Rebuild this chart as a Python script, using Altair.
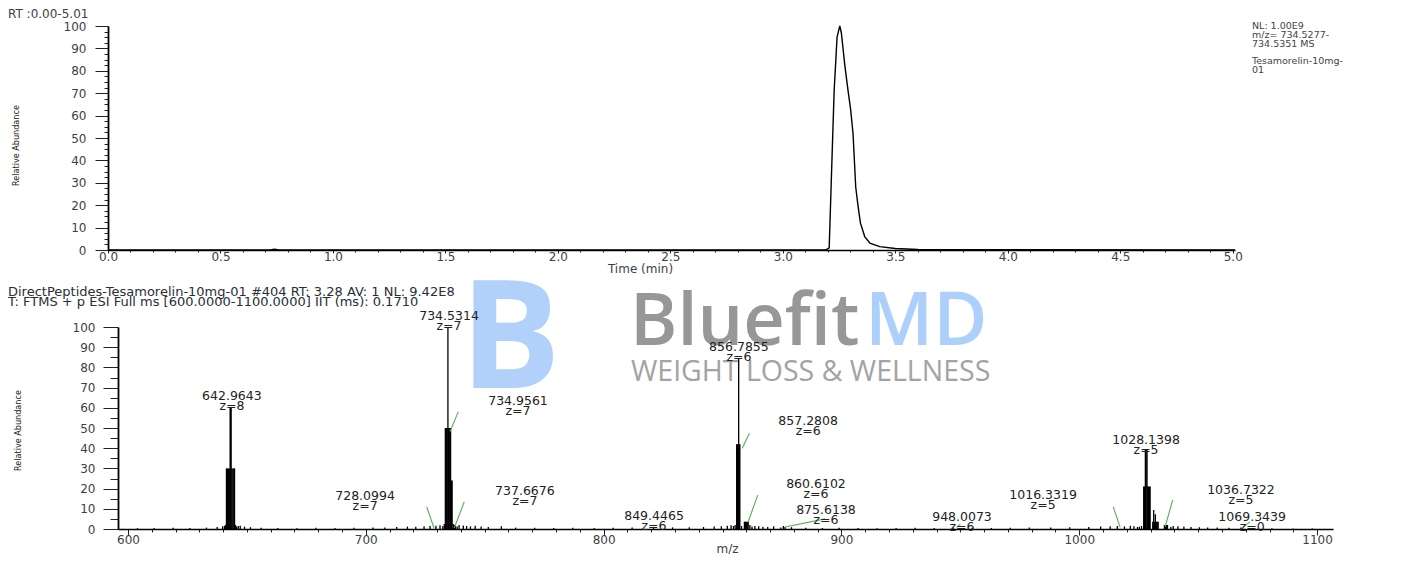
import altair as alt
import pandas as pd

FONT = "DejaVu Sans"
NARROW = "Liberation Sans Narrow, DejaVu Sans Condensed, Liberation Sans"
TXT = "#3a3f48"

# ---------------- top panel: chromatogram ----------------
rt_time = [0.0, 0.72, 0.74, 0.76, 3.19, 3.206, 3.216, 3.228, 3.241, 3.253, 3.260, 3.276,
           3.290, 3.301, 3.312, 3.324, 3.335, 3.345, 3.364, 3.387, 3.431, 3.50, 3.60, 5.01]
rt_abund = [0, 0, 0.4, 0, 0, 1, 33, 71, 95, 100, 97, 82,
            71, 63, 52, 28, 19, 12, 6, 3, 1.5, 0.7, 0.2, 0]
top_title = "RT :0.00-5.01"
info_lines_a = ["NL: 1.00E9", "m/z= 734.5277-", "734.5351 MS"]
info_lines_b = ["Tesamorelin-10mg-", "01"]
top_x_ticks = [round(i * 0.1, 1) for i in range(51)]
top_y_ticks = [i * 2.5 for i in range(41)]

# ---------------- bottom panel: mass spectrum ----------------
header_lines = ["DirectPeptides-Tesamorelin-10mg-01 #404 RT: 3.28 AV: 1 NL: 9.42E8",
                "T: FTMS + p ESI Full ms [600.0000-1100.0000] IIT (ms): 0.1710"]

cl643_mz = [640.6, 641.0, 641.4, 641.8, 642.2, 642.6, 642.96, 643.15, 643.35, 643.7, 644.1, 644.5, 644.8, 645.2, 645.7, 646.4]
cl643_int = [1.5, 2.0, 30, 30, 30, 30, 60, 60, 60, 30, 30, 30, 30, 2.0, 1.2, 1.5]
cl734_mz = [732.4, 733.0, 733.45, 733.85, 734.2, 734.53, 734.75, 734.96, 735.3, 735.65, 736.0, 736.3, 736.8, 737.3, 737.67, 738.4]
cl734_int = [1.5, 2.5, 50, 50, 50, 100, 50, 50, 50, 50, 24, 24, 2.5, 2.0, 1.5, 1.2]
cl857_mz = [854.6, 855.3, 855.95, 856.3, 856.6, 856.79, 857.0, 857.28, 858.0, 859.2, 859.6, 860.0, 860.4, 860.8, 861.5, 862.4, 875.6, 876.3]
cl857_int = [1.5, 2.0, 42, 42, 42, 84.5, 42, 42, 1.5, 3.6, 3.6, 3.6, 3.6, 3.6, 2.0, 1.2, 1.5, 1.0]
cl1028_mz = [1024.5, 1025.3, 1026.2, 1027.1, 1027.45, 1027.8, 1028.14, 1028.5, 1028.8, 1029.15, 1029.5, 1029.8,
             1030.9, 1031.3, 1031.6, 1032.0, 1032.4, 1032.8, 1033.2, 1035.8, 1036.3, 1036.73, 1037.1, 1038.5]
cl1028_int = [1.0, 1.2, 1.5, 21, 21, 39.4, 39.4, 39.4, 21, 21, 21, 21,
              3.6, 9.4, 3.6, 7.3, 3.6, 3.6, 3.6, 2.0, 2.0, 2.0, 2.0, 1.0]
noise_mz = [
    604, 611, 619, 626, 633, 637.5, 639.8, 647.2, 649, 651.5,
    656, 663, 671, 679, 687, 695, 703, 708, 713, 717.5,
    721, 724.5, 727, 729.5, 731.2, 739.2, 741, 742.4, 744, 746,
    748.5, 751.5, 757, 763, 771, 779, 787, 796, 804, 812,
    821, 829, 836, 842, 846.5, 849.5, 852, 853.6, 863.6, 865.2,
    867, 869, 871.5, 874.5, 879, 885, 892, 899, 907, 915,
    923, 931, 939, 947, 955, 963, 971, 979, 988, 996,
    1004, 1009, 1013, 1016, 1019, 1021.5, 1023, 1039.5, 1041.5, 1044,
    1047, 1050.5, 1054, 1058, 1063, 1068, 1073, 1081, 1090, 1098]
noise_int = [
    0.4, 0.5, 0.6, 0.5, 0.7, 1.0, 1.4, 1.6, 1.2, 0.9,
    0.6, 0.5, 0.4, 0.6, 0.5, 0.6, 0.7, 0.8, 1.0, 1.2,
    1.1, 1.3, 1.5, 1.6, 1.8, 2.0, 1.7, 1.5, 1.3, 1.6,
    1.2, 1.0, 1.4, 0.7, 0.6, 0.5, 0.6, 0.5, 0.6, 0.7,
    0.6, 0.8, 0.9, 1.0, 1.2, 1.4, 1.6, 1.8, 1.5, 1.3,
    1.1, 1.0, 1.3, 0.8, 0.9, 0.6, 0.5, 0.6, 0.5, 0.4,
    0.5, 0.6, 0.5, 0.7, 0.6, 0.5, 0.6, 0.7, 0.8, 0.9,
    1.0, 1.2, 1.4, 1.5, 1.3, 1.6, 1.4, 1.5, 1.3, 1.2,
    1.0, 0.9, 0.8, 0.7, 0.6, 0.7, 0.5, 0.4, 0.3, 0.3]

peak_mass = ["642.9643", "734.5314", "734.9561", "728.0994", "737.6676", "856.7855", "857.2808",
             "860.6102", "875.6138", "849.4465", "948.0073", "1016.3319", "1028.1398", "1036.7322", "1069.3439"]
peak_charge = ["z=8", "z=7", "z=7", "z=7", "z=7", "z=6", "z=6",
               "z=6", "z=6", "z=6", "z=6", "z=5", "z=5", "z=5", "z=0"]
label_mz = [643.7, 735.0, 764.0, 699.7, 766.9, 856.9, 886.0, 889.3, 893.5, 821.2, 950.7, 984.8, 1028.1, 1068.0, 1072.7]
label_val = [65.6, 105.2, 63.4, 16.3, 18.8, 89.9, 53.5, 22.5, 9.2, 6.2, 5.7, 16.6, 44.3, 19.3, 5.7]

lead_mz1 = [725.6, 735.4, 737.2, 858.3, 860.8, 876.3, 1014.3, 1036.1, 948.5, 1068.9]
lead_v1 = [11.0, 48.2, 0.5, 40.0, 3.6, 1.0, 11.0, 1.0, 0.8, 1.0]
lead_mz2 = [728.7, 738.9, 741.4, 861.3, 864.8, 893.1, 1017.2, 1039.3, 950.0, 1071.8]
lead_v2 = [0.5, 58.1, 13.5, 47.4, 16.8, 5.0, 0.8, 14.4, 2.5, 3.5]

bot_x_ticks = list(range(600, 1101, 10))
bot_y_ticks = list(range(0, 101, 5))

wm_logo = "B"
wm_words = ["Bluefit", "MD", "WEIGHT LOSS & WELLNESS"]

one = pd.DataFrame({"a": [0]})

# ---------------- top panel ----------------
ax_top_x = alt.Axis(
    values=top_x_ticks,
    labelExpr="round(datum.value*10) % 5 === 0 ? format(datum.value, '.1f') : ''",
    tickSize={"condition": {"test": "round(datum.value*10) % 5 === 0", "value": 3}, "value": 2},
    labelPadding=-2, labelFont=FONT, labelFontSize=12, labelColor=TXT, labelOverlap=False,
    labelFlush=False,
    domainColor="black", domainWidth=1.5, tickColor="#222", grid=False,
    title="Time (min)", titleFont=FONT, titleFontSize=12, titleFontWeight="normal", titleColor=TXT,
    titleX=532, titleY=18, titleBaseline="middle", titleAlign="center")
ax_top_y = alt.Axis(
    values=top_y_ticks,
    labelExpr="datum.value % 10 === 0 ? format(datum.value, 'd') : ''",
    tickSize={"condition": {"test": "datum.value % 10 === 0", "value": 13}, "value": 4},
    labelPadding=9, labelFont=FONT, labelFontSize=12, labelColor=TXT, labelOverlap=False,
    labelFlush=False,
    domainColor="black", domainWidth=1.8, tickColor="#222", grid=False,
    title="Relative Abundance", titleFont=NARROW, titleFontSize=9, titleFontWeight="normal",
    titleColor="#222", titleX=-88, titleY=119)
x_top = alt.X("t:Q", scale=alt.Scale(domain=[0, 5.01], nice=False, zero=False), axis=ax_top_x)
y_top = alt.Y("ab:Q", scale=alt.Scale(domain=[0, 100], nice=False), axis=ax_top_y)

chrom = alt.Chart(pd.DataFrame({"t": rt_time, "ab": rt_abund})).mark_line(
    color="black", strokeWidth=1.4).encode(x=x_top, y=y_top)
rt_text = alt.Chart(one).mark_text(
    text=top_title, align="left", baseline="middle", font=FONT, fontSize=12, color=TXT
).encode(x=alt.value(-100), y=alt.value(-12))
info_a = alt.Chart(one).mark_text(
    text=info_lines_a, align="left", baseline="top", font=FONT, fontSize=9.5, lineHeight=9, color="#444"
).encode(x=alt.value(1144), y=alt.value(-5))
info_b = alt.Chart(one).mark_text(
    text=info_lines_b, align="left", baseline="top", font=FONT, fontSize=9.5, lineHeight=9, color="#444"
).encode(x=alt.value(1144), y=alt.value(29.5))

top = alt.layer(chrom, rt_text, info_a, info_b).properties(width=1127, height=224)

# ---------------- bottom panel ----------------
ax_bot_x = alt.Axis(
    values=bot_x_ticks,
    labelExpr="datum.value % 100 === 0 ? format(datum.value, 'd') : ''",
    tickSize={"condition": {"test": "datum.value % 100 === 0", "value": 6}, "value": 3},
    labelPadding=-1, labelFont=FONT, labelFontSize=12, labelColor=TXT, labelOverlap=False,
    labelFlush=False,
    domainColor="black", domainWidth=1.5, tickColor="#222", grid=False,
    title="m/z", titleFont=FONT, titleFontSize=12, titleFontWeight="normal", titleColor=TXT,
    titleX=619, titleY=19, titleBaseline="middle", titleAlign="center")
ax_bot_y = alt.Axis(
    values=bot_y_ticks, offset=-10,
    labelExpr="datum.value % 10 === 0 ? format(datum.value, 'd') : ''",
    tickSize={"condition": {"test": "datum.value % 10 === 0", "value": 15}, "value": 8},
    labelPadding=8, labelFont=FONT, labelFontSize=12, labelColor=TXT, labelOverlap=False,
    labelFlush=False,
    domainColor="black", domainWidth=1.8, tickColor="#222", grid=False,
    title="Relative Abundance", titleFont=NARROW, titleFontSize=9, titleFontWeight="normal",
    titleColor="#222", titleX=-96, titleY=103)
x_bot = alt.X("mz:Q", scale=alt.Scale(domain=[595.8, 1106.7], range=[10, 1225], nice=False, zero=False),
              axis=ax_bot_x)
y_bot = alt.Y("val:Q", scale=alt.Scale(domain=[0, 100], nice=False), axis=ax_bot_y)

all_mz = cl643_mz + cl734_mz + cl857_mz + cl1028_mz + noise_mz
all_int = cl643_int + cl734_int + cl857_int + cl1028_int + noise_int
ms_df = pd.DataFrame({"mz": all_mz, "val": all_int})

sticks = alt.Chart(ms_df).transform_calculate(base="0").mark_rule(
    color="black", strokeWidth=1.3).encode(x=x_bot, y=y_bot, y2="base:Q")

lead_df = pd.DataFrame({"mz": lead_mz1, "val": lead_v1, "mz2": lead_mz2, "val2": lead_v2})
leaders = alt.Chart(lead_df).mark_rule(color="#55b055", strokeWidth=1.1).encode(
    x=x_bot, y=y_bot, x2="mz2:Q", y2="val2:Q")

lab_df = pd.DataFrame({"mz": label_mz, "val": label_val,
                       "label": [m + "\n" + c for m, c in zip(peak_mass, peak_charge)]})
labels = alt.Chart(lab_df).mark_text(
    font=FONT, fontSize=12.5, lineHeight=10, lineBreak="\n", color="#222",
    align="center", baseline="middle").encode(x=x_bot, y=y_bot, text="label:N")

headers = [
    alt.Chart(one).mark_text(text=line, align="left", baseline="middle", font=FONT,
                             fontSize=13, color="#2a2e36").encode(x=alt.value(-100), y=alt.value(yy))
    for line, yy in zip(header_lines, [-35, -25])
]

wm = [
    alt.Chart(one).mark_text(text=wm_logo, align="left", baseline="alphabetic", font="Open Sans",
                             fontWeight="bold", fontSize=150, color="#a9cdfb", opacity=0.9
                             ).encode(x=alt.value(352), y=alt.value(61)),
    alt.Chart(one).mark_text(text=wm_words[0], align="left", baseline="alphabetic", font="Open Sans",
                             fontWeight=600, fontSize=72, color="#8c8c8c", opacity=0.9
                             ).encode(x=alt.value(522), y=alt.value(18)),
    alt.Chart(one).mark_text(text=wm_words[1], align="left", baseline="alphabetic", font="Open Sans",
                             fontWeight=600, fontSize=74, color="#a9cdfb", opacity=0.95
                             ).encode(x=alt.value(757), y=alt.value(18)),
    alt.Chart(one).mark_text(text=wm_words[2], align="left", baseline="alphabetic", font="Open Sans",
                             fontSize=28.5, color="#9a9a9a", opacity=0.9
                             ).encode(x=alt.value(523), y=alt.value(54)),
]

bottom = alt.layer(*headers, *wm, sticks, leaders, labels).properties(width=1225, height=202)

chart = alt.vconcat(top, bottom, spacing=77, bounds="flush").properties(
    padding={"left": 0, "top": 0, "right": 0, "bottom": 0}, background="white"
).configure_view(strokeWidth=0)

chart.save("out.html", embed_options={"renderer": "svg", "actions": False})
